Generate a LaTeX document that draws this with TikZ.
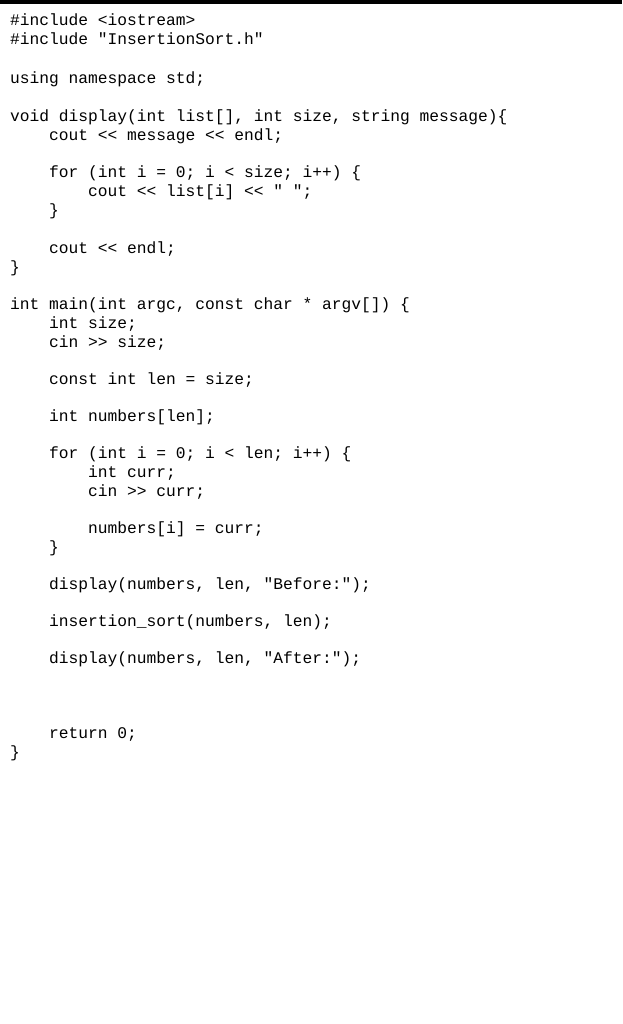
\documentclass[tikz,border=0pt]{standalone}
\usepackage{fontspec}
\newfontfamily\code{Liberation Mono}
\begin{document}
\begin{tikzpicture}[x=1pt,y=1pt,ln/.style={anchor=base west,inner sep=0pt,font=\code\fontsize{16.25}{18}\selectfont}]
\useasboundingbox (0,0) rectangle (622,-1024);
\fill[white] (0,0) rectangle (622,-1024);
\fill[black] (0,0) rectangle (622,-4);
\def\L#1#2#3{\node[ln] at (#1,-#2-5) {#3};}
\L{10}{21}{\#include <iostream>}
\L{10}{40}{\#include "InsertionSort.h"}
\L{10}{79}{using namespace std;}
\L{10}{117}{void display(int list[], int size, string message)\{}
\L{49}{136}{cout << message << endl;}
\L{49}{173}{for (int i = 0; i < size; i++) \{}
\L{88}{192}{cout << list[i] << " ";}
\L{49}{211}{\}}
\L{49}{248}{cout << endl;}
\L{10}{267}{\}}
\L{10}{304}{int main(int argc, const char * argv[]) \{}
\L{49}{323}{int size;}
\L{49}{342}{cin >> size;}
\L{49}{379}{const int len = size;}
\L{49}{416}{int numbers[len];}
\L{49}{453}{for (int i = 0; i < len; i++) \{}
\L{88}{472}{int curr;}
\L{88}{491}{cin >> curr;}
\L{88}{528}{numbers[i] = curr;}
\L{49}{547}{\}}
\L{49}{584}{display(numbers, len, "Before:");}
\L{49}{621}{insertion\_sort(numbers, len);}
\L{49}{658}{display(numbers, len, "After:");}
\L{49}{733}{return 0;}
\L{10}{752}{\}}
\end{tikzpicture}
\end{document}
